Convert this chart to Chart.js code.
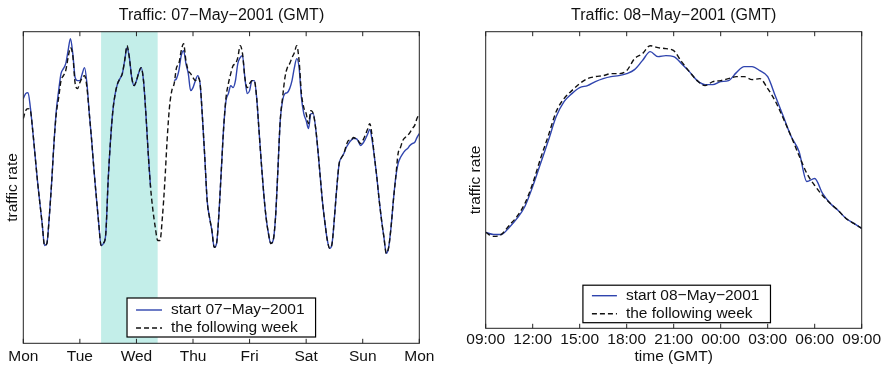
<!DOCTYPE html>
<html lang="en">
<head>
    <meta charset="UTF-8">
    <title>Traffic: 07−May−2001 / 08−May−2001</title>
    <script src="https://cdn.jsdelivr.net/npm/chart.js"></script>
    <style>
        html, body { margin: 0; padding: 0; background: #fff; overflow: hidden; }
        canvas { position: absolute; top: 0; }
        #weekChart { left: 0; }
        #dayChart { left: 444px; }
    </style>
</head>
<body>
    <canvas id="weekChart" width="443" height="368"></canvas>
    <canvas id="dayChart" width="444" height="368"></canvas>

    <script>
        // ---- week view: hourly rate from Mon 07-May-2001 00:00 GMT (null = no data) ----
        const dayLabels = ['Mon', 'Tue', 'Wed', 'Thu', 'Fri', 'Sat', 'Sun', 'Mon'];
        const weekHours = Array.from({ length: 169 }, (_, i) => i);
        const startWeek = [
            245, 250, 251, 236, 213, 188, 163, 141, 120, 98,
            100, 126, 160, 200, 233, 253, 270, 275, 280, 293,
            305, 290, 266, 263, 263, 270, 276, 260, 230, 203,
            173, 146, 120, 98, 100, 110, 163, 203, 233, 250,
            260, 265, 270, 283, 296, 286, 266, 258, 263, 271,
            276, 263, 230, 190, 156, null, null, null, null, null,
            null, null, null, null, 263, 265, 273, 288, 293, 280,
            270, 253, 256, 263, 268, 260, 226, 186, 143, 126,
            113, 96, 100, 130, 173, 216, 243, 250, 258, 256,
            263, 280, 286, 288, 266, 250, 253, 263, 263, 246,
            213, 180, 150, 126, 110, 100, 103, 126, 173, 223,
            243, 250, 251, 255, 263, 276, 285, 276, 246, 230,
            223, 215, 230, 230, 216, 193, 166, 140, 120, 103,
            95, 100, 126, 156, 180, 186, 190, 196, 200, 203,
            205, 205, 203, 198, 200, 204, 209, 214, 203, 186,
            166, 143, 123, 106, 90, 96, 116, 143, 166, 180,
            186, 190, 193, 195, 198, 200, 201, 206, 210
        ];
        const followingWeek = [
            225, 233, 235, 233, 213, 188, 163, 141, 120, 98,
            100, 126, 160, 200, 230, 246, 263, 268, 273, 286,
            296, 288, 260, 255, 261, 266, 268, 256, 230, 203,
            173, 146, 120, 98, 100, 110, 163, 203, 233, 250,
            260, 265, 270, 283, 298, 286, 266, 258, 263, 271,
            276, 263, 230, 190, 156, 133, 116, 103, 103, 126,
            160, 203, 236, 253, 260, 276, 280, 293, 300, 283,
            273, 270, 266, 263, 266, 260, 226, 186, 143, 126,
            113, 96, 100, 130, 173, 216, 246, 260, 270, 278,
            280, 286, 298, 290, 266, 256, 260, 263, 263, 246,
            213, 180, 150, 126, 110, 100, 103, 126, 173, 223,
            246, 266, 276, 280, 286, 291, 298, 283, 250, 236,
            230, 220, 233, 230, 216, 193, 166, 140, 120, 103,
            95, 100, 126, 156, 180, 186, 190, 198, 203, 203,
            206, 205, 203, 200, 203, 208, 214, 220, 207, 186,
            166, 143, 123, 106, 90, 96, 116, 143, 166, 190,
            196, 203, 206, 208, 211, 215, 218, 225, 230
        ];
        // highlighted day (08-May 09:00 -> 09-May 09:00), in hours from the week start
        const bandStart = 33;
        const bandEnd = 57;

        // ---- day view: half-hourly rate from 08-May-2001 09:00 GMT ----
        const clockLabels = ['09:00', '12:00', '15:00', '18:00', '21:00', '00:00', '03:00', '06:00', '09:00'];
        const dayHours = Array.from({ length: 49 }, (_, i) => i / 2);
        const startDay = [
            96, 94, 94, 101, 110, 122, 142, 165, 188, 212,
            227, 235, 241, 243, 247, 250, 252, 253, 255, 259,
            268, 277, 272, 273, 272, 265, 257, 248, 244, 244,
            247, 248, 256, 262, 262, 258, 252, 232, 212, 192,
            177, 147, 150, 135, 125, 118, 110, 105, 100
        ];
        const followingDay = [
            96, 92, 94, 103, 112, 125, 145, 170, 193, 217,
            230, 238, 245, 250, 252, 253, 255, 255, 258, 270,
            275, 283, 281, 280, 278, 267, 257, 248, 243, 247,
            248, 250, 252, 252, 249, 250, 240, 227, 210, 192,
            173, 155, 143, 133, 125, 118, 110, 105, 100
        ];

        const BLUE = '#2f44ae';
        const INK = '#111';
        const FONT = '"Liberation Sans", Arial, Helvetica, sans-serif';
        Chart.defaults.font.family = FONT;
        Chart.defaults.color = INK;

        const toPoints = (xs, ys) => xs.map((x, i) => ({ x: x, y: ys[i] }));

        // shaded band under the lines, then the axes box with inward ticks
        const framePlugin = {
            id: 'frame',
            beforeDatasetsDraw(chart, args, opts) {
                if (!opts.band) return;
                const { ctx, chartArea: a, scales: { x } } = chart;
                const x0 = x.getPixelForValue(opts.band[0]);
                const x1 = x.getPixelForValue(opts.band[1]);
                ctx.save();
                ctx.fillStyle = opts.bandColor;
                ctx.fillRect(x0, a.top, x1 - x0, a.bottom - a.top);
                ctx.restore();
            },
            afterDatasetsDraw(chart, args, opts) {
                const { ctx, chartArea: a, scales: { x } } = chart;
                ctx.save();
                ctx.strokeStyle = '#222';
                ctx.lineWidth = 1;
                ctx.beginPath();
                x.ticks.forEach(t => {
                    const px = x.getPixelForValue(t.value);
                    ctx.moveTo(px, a.bottom);
                    ctx.lineTo(px, a.bottom - opts.tickLen);
                    ctx.moveTo(px, a.top);
                    ctx.lineTo(px, a.top + opts.tickLen);
                });
                ctx.stroke();
                ctx.strokeRect(a.left, a.top, a.right - a.left, a.bottom - a.top);
                ctx.restore();
            }
        };

        // boxed legend sitting inside the plot, near the bottom
        const boxLegend = {
            id: 'boxLegend',
            afterDraw(chart, args, opts) {
                const { ctx, chartArea: a } = chart;
                const sets = chart.data.datasets;
                ctx.save();
                ctx.font = opts.fontSize + 'px ' + FONT;
                const textW = Math.max(...sets.map(d => ctx.measureText(d.label).width));
                const w = opts.padL + opts.sample + opts.gap + textW + opts.padR;
                const h = opts.padTop + opts.rowH * sets.length + opts.padBottom;
                const x = (a.left + a.right) / 2 - w / 2 + opts.shift;
                const y = a.bottom - opts.bottomGap - h;
                ctx.fillStyle = '#fff';
                ctx.fillRect(x, y, w, h);
                ctx.strokeStyle = '#000';
                ctx.lineWidth = 1.2;
                ctx.strokeRect(x, y, w, h);
                sets.forEach((d, i) => {
                    const cy = y + opts.padTop + opts.rowH * (i + 0.5);
                    ctx.strokeStyle = d.borderColor;
                    ctx.lineWidth = d.borderWidth;
                    ctx.setLineDash(d.borderDash || []);
                    ctx.beginPath();
                    ctx.moveTo(x + opts.padL, cy);
                    ctx.lineTo(x + opts.padL + opts.sample, cy);
                    ctx.stroke();
                    ctx.setLineDash([]);
                    ctx.fillStyle = INK;
                    ctx.textBaseline = 'middle';
                    ctx.textAlign = 'left';
                    ctx.fillText(d.label, x + opts.padL + opts.sample + opts.gap, cy);
                });
                ctx.restore();
            }
        };

        function lineSets(firstLabel, first, second, xs) {
            return [{
                label: firstLabel,
                data: toPoints(xs, first),
                borderColor: BLUE,
                borderWidth: 1.4,
                pointRadius: 0,
                cubicInterpolationMode: 'monotone',
                spanGaps: false,
                order: 1
            }, {
                label: 'the following week',
                data: toPoints(xs, second),
                borderColor: INK,
                borderWidth: 1.4,
                borderDash: [5, 3],
                pointRadius: 0,
                cubicInterpolationMode: 'monotone',
                order: 0
            }];
        }

        const hidden = { grid: { display: false, drawTicks: false }, border: { display: false } };

        // Week chart
        new Chart(document.getElementById('weekChart'), {
            type: 'line',
            data: { datasets: lineSets('start 07−May−2001', startWeek, followingWeek, weekHours) },
            plugins: [framePlugin, boxLegend],
            options: {
                responsive: false,
                animation: false,
                layout: { padding: 0, autoPadding: false },
                plugins: {
                    legend: { display: false },
                    tooltip: { enabled: false },
                    title: {
                        display: true,
                        text: 'Traffic: 07−May−2001 (GMT)',
                        font: { size: 16, weight: 'normal' },
                        padding: { top: 6.2, bottom: 6.3 }
                    },
                    frame: { band: [bandStart, bandEnd], bandColor: '#c3eee9', tickLen: 4.5 },
                    boxLegend: { fontSize: 15.5, padL: 9, sample: 26, gap: 9, padR: 11, padTop: 3, rowH: 18, padBottom: 0, bottomGap: 6.3, shift: 0 }
                },
                scales: {
                    x: {
                        type: 'linear', min: 0, max: 168, ...hidden,
                        ticks: { stepSize: 24, autoSkip: false, maxRotation: 0, padding: 4, font: { size: 15.5 },
                            callback: v => dayLabels[v / 24] },
                        afterFit: s => { s.height = 24.7; }
                    },
                    y: {
                        min: 0, max: 312, ...hidden,
                        ticks: { display: false },
                        title: { display: true, text: 'traffic rate', font: { size: 15.5 }, padding: { top: 3.5, bottom: 0 } },
                        afterFit: s => { s.width = 23.3; }
                    },
                    yR: {
                        position: 'right', min: 0, max: 1, ...hidden,
                        ticks: { display: false },
                        afterFit: s => { s.width = 23.7; }
                    }
                }
            }
        });

        // Day chart
        new Chart(document.getElementById('dayChart'), {
            type: 'line',
            data: { datasets: lineSets('start 08−May−2001', startDay, followingDay, dayHours) },
            plugins: [framePlugin, boxLegend],
            options: {
                responsive: false,
                animation: false,
                layout: { padding: { left: 15.4, right: 0, top: 0, bottom: 0 }, autoPadding: false },
                plugins: {
                    legend: { display: false },
                    tooltip: { enabled: false },
                    title: {
                        display: true,
                        text: 'Traffic: 08−May−2001 (GMT)',
                        font: { size: 16, weight: 'normal' },
                        padding: { top: 6.2, bottom: 6.3 }
                    },
                    frame: { tickLen: 4.5 },
                    boxLegend: { fontSize: 15.5, padL: 9, sample: 25, gap: 9, padR: 11, padTop: 1.5, rowH: 18, padBottom: 0, bottomGap: 5.6, shift: 3 }
                },
                scales: {
                    x: {
                        type: 'linear', min: 0, max: 24, ...hidden,
                        ticks: { stepSize: 3, autoSkip: false, maxRotation: 0, padding: 2.4, font: { size: 15.5 },
                            callback: v => clockLabels[v / 3] },
                        title: { display: true, text: 'time (GMT)', font: { size: 15.5 }, padding: { top: 0, bottom: 2 } },
                        afterFit: s => { s.height = 39.7; }
                    },
                    y: {
                        min: 0, max: 297, ...hidden,
                        ticks: { display: false },
                        title: { display: true, text: 'traffic rate', font: { size: 15.5 }, padding: { top: 6.8, bottom: 0 } },
                        afterFit: s => { s.width = 26.3; }
                    },
                    yR: {
                        position: 'right', min: 0, max: 1, ...hidden,
                        ticks: { display: false },
                        afterFit: s => { s.width = 26.3; }
                    }
                }
            }
        });
    </script>
</body>
</html>
